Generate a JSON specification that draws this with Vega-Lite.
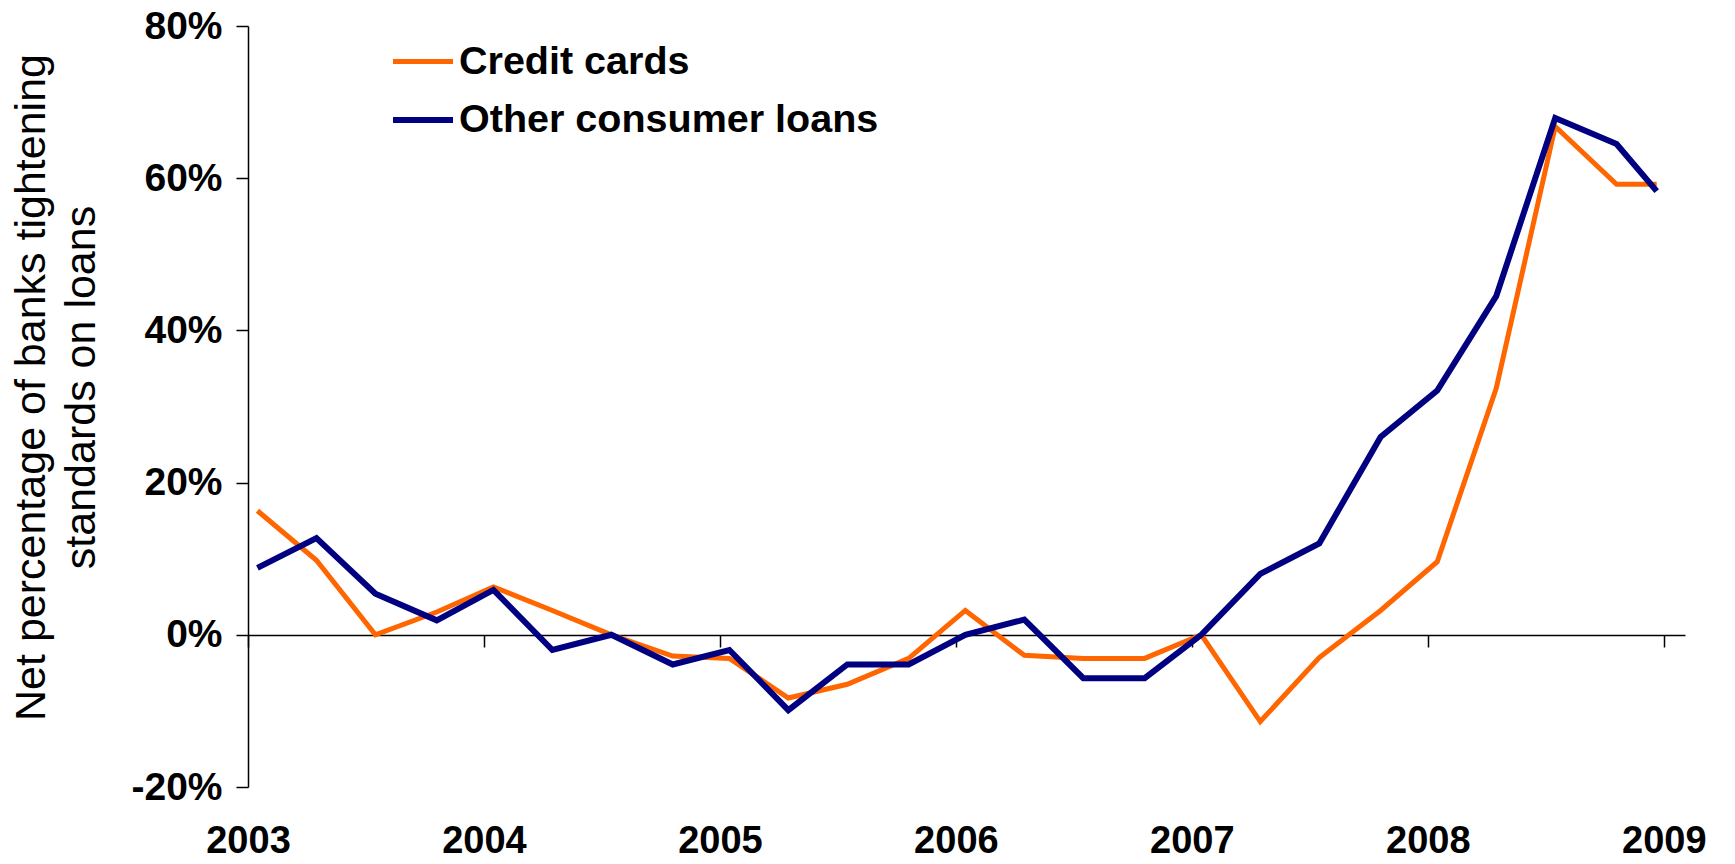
{
  "$schema": "https://vega.github.io/schema/vega-lite/v6.json",
  "width": 1437,
  "height": 761,
  "autosize": {"type": "none"},
  "padding": {"left": 248, "top": 26, "right": 50, "bottom": 77},
  "background": "white",
  "usermeta": {"embedOptions": {"actions": false}},
  "config": {"view": {"stroke": null}, "font": "Liberation Sans"},
  "data": {
    "values": [
      {"date": 2003.04, "series": "Credit cards", "value": 16.3},
      {"date": 2003.29, "series": "Credit cards", "value": 9.8},
      {"date": 2003.54, "series": "Credit cards", "value": 0},
      {"date": 2003.80, "series": "Credit cards", "value": 3.0},
      {"date": 2004.04, "series": "Credit cards", "value": 6.3},
      {"date": 2004.29, "series": "Credit cards", "value": 3.2},
      {"date": 2004.54, "series": "Credit cards", "value": 0},
      {"date": 2004.80, "series": "Credit cards", "value": -2.8},
      {"date": 2005.04, "series": "Credit cards", "value": -3.1},
      {"date": 2005.29, "series": "Credit cards", "value": -8.3},
      {"date": 2005.54, "series": "Credit cards", "value": -6.5},
      {"date": 2005.80, "series": "Credit cards", "value": -3.1},
      {"date": 2006.04, "series": "Credit cards", "value": 3.2},
      {"date": 2006.29, "series": "Credit cards", "value": -2.7},
      {"date": 2006.54, "series": "Credit cards", "value": -3.1},
      {"date": 2006.80, "series": "Credit cards", "value": -3.1},
      {"date": 2007.04, "series": "Credit cards", "value": 0},
      {"date": 2007.29, "series": "Credit cards", "value": -11.4},
      {"date": 2007.54, "series": "Credit cards", "value": -3.0},
      {"date": 2007.80, "series": "Credit cards", "value": 3.2},
      {"date": 2008.04, "series": "Credit cards", "value": 9.6},
      {"date": 2008.29, "series": "Credit cards", "value": 32.4},
      {"date": 2008.54, "series": "Credit cards", "value": 66.8},
      {"date": 2008.80, "series": "Credit cards", "value": 59.2},
      {"date": 2008.97, "series": "Credit cards", "value": 59.2},
      {"date": 2003.04, "series": "Other consumer loans", "value": 8.8},
      {"date": 2003.29, "series": "Other consumer loans", "value": 12.7},
      {"date": 2003.54, "series": "Other consumer loans", "value": 5.4},
      {"date": 2003.80, "series": "Other consumer loans", "value": 1.9},
      {"date": 2004.04, "series": "Other consumer loans", "value": 5.9},
      {"date": 2004.29, "series": "Other consumer loans", "value": -2.0},
      {"date": 2004.54, "series": "Other consumer loans", "value": 0},
      {"date": 2004.80, "series": "Other consumer loans", "value": -3.9},
      {"date": 2005.04, "series": "Other consumer loans", "value": -2.0},
      {"date": 2005.29, "series": "Other consumer loans", "value": -9.9},
      {"date": 2005.54, "series": "Other consumer loans", "value": -3.9},
      {"date": 2005.80, "series": "Other consumer loans", "value": -3.9},
      {"date": 2006.04, "series": "Other consumer loans", "value": 0},
      {"date": 2006.29, "series": "Other consumer loans", "value": 2.0},
      {"date": 2006.54, "series": "Other consumer loans", "value": -5.7},
      {"date": 2006.80, "series": "Other consumer loans", "value": -5.7},
      {"date": 2007.04, "series": "Other consumer loans", "value": 0},
      {"date": 2007.29, "series": "Other consumer loans", "value": 8.0},
      {"date": 2007.54, "series": "Other consumer loans", "value": 12.0},
      {"date": 2007.80, "series": "Other consumer loans", "value": 26.0},
      {"date": 2008.04, "series": "Other consumer loans", "value": 32.1},
      {"date": 2008.29, "series": "Other consumer loans", "value": 44.5},
      {"date": 2008.54, "series": "Other consumer loans", "value": 67.9},
      {"date": 2008.80, "series": "Other consumer loans", "value": 64.5},
      {"date": 2008.97, "series": "Other consumer loans", "value": 58.3}
    ]
  },
  "mark": {"type": "line", "strokeJoin": "miter"},
  "encoding": {
    "x": {
      "field": "date",
      "type": "quantitative",
      "scale": {"domain": [2003, 2009.09], "nice": false, "zero": false},
      "axis": {
        "values": [2003, 2004, 2005, 2006, 2007, 2008, 2009],
        "format": "d",
        "title": null,
        "grid": false,
        "offset": -152,
        "tickSize": 12,
        "tickColor": "black",
        "tickWidth": 1.5,
        "domainColor": "black",
        "domainWidth": 1.5,
        "labelPadding": 175,
        "labelFont": "Liberation Sans",
        "labelFontSize": 38,
        "labelFontWeight": "bold",
        "labelColor": "black",
        "labelDx": 9,
        "labelFlush": false,
        "labelOverlap": false
      }
    },
    "y": {
      "field": "value",
      "type": "quantitative",
      "scale": {"domain": [-20, 80], "nice": false},
      "axis": {
        "values": [-20, 0, 20, 40, 60, 80],
        "labelExpr": "datum.value + '%'",
        "grid": false,
        "tickSize": 12,
        "tickColor": "black",
        "tickWidth": 1.5,
        "domainColor": "black",
        "domainWidth": 1.5,
        "labelPadding": 14,
        "labelFont": "Liberation Sans",
        "labelFontSize": 39,
        "labelFontWeight": "bold",
        "labelColor": "black",
        "labelDy": 3,
        "labelFlush": false,
        "labelOverlap": false,
        "title": ["Net percentage of banks tightening", "standards on loans"],
        "titleFont": "Liberation Sans",
        "titleFontSize": 43,
        "titleFontWeight": "normal",
        "titleColor": "black",
        "titleX": -204,
        "titleY": 361,
        "titleAngle": -90,
        "titleAlign": "center",
        "titleBaseline": "alphabetic",
        "titleLineHeight": 50
      }
    },
    "color": {
      "field": "series",
      "type": "nominal",
      "scale": {"domain": ["Credit cards", "Other consumer loans"], "range": ["#FF6600", "#000080"]},
      "legend": {
        "orient": "none",
        "legendX": 142,
        "legendY": 3,
        "title": null,
        "symbolType": "stroke",
        "symbolSize": 3600,
        "symbolStrokeWidth": 5,
        "labelFont": "Liberation Sans",
        "labelFontSize": 39.5,
        "labelFontWeight": "bold",
        "labelColor": "black",
        "labelOffset": 3,
        "labelLimit": 700,
        "rowPadding": 6,
        "padding": 0
      }
    },
    "strokeWidth": {
      "field": "series",
      "type": "nominal",
      "scale": {"domain": ["Credit cards", "Other consumer loans"], "range": [5, 6]},
      "legend": null
    }
  }
}
